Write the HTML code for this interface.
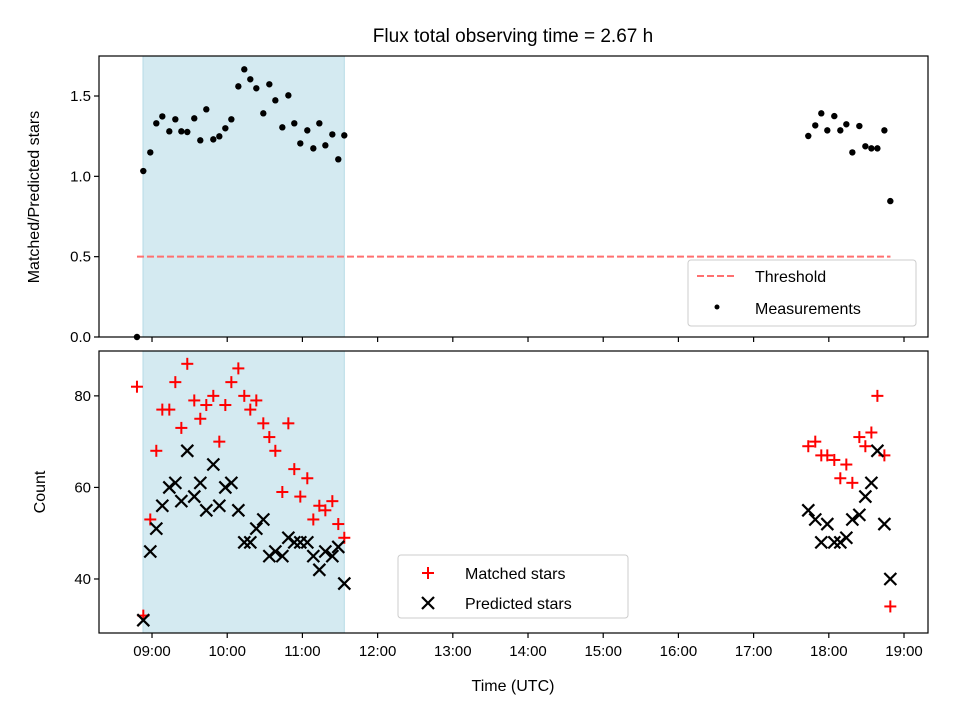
<!DOCTYPE html>
<html><head><meta charset="utf-8"><style>
body{margin:0;background:#fff;}
svg{display:block;font-family:"Liberation Sans","DejaVu Sans",sans-serif;}
</style></head><body>
<svg id="chart" width="960" height="720" viewBox="0 0 960 720" xmlns="http://www.w3.org/2000/svg"></svg>
<script>
const ratioTimes=[8.80,8.884,8.977,9.057,9.137,9.230,9.310,9.390,9.469,9.562,9.642,9.722,9.815,9.895,9.975,10.055,10.148,10.227,10.307,10.387,10.480,10.560,10.640,10.733,10.813,10.892,10.972,11.065,11.145,11.225,11.305,11.398,11.477,11.557,
17.727,17.820,17.900,17.980,18.073,18.153,18.233,18.313,18.406,18.486,18.566,18.646,18.739,18.818];
const ratioValues=[0,1.033,1.149,1.330,1.373,1.280,1.355,1.280,1.276,1.361,1.224,1.417,1.230,1.249,1.299,1.355,1.560,1.666,1.604,1.548,1.392,1.573,1.473,1.305,1.504,1.330,1.205,1.286,1.174,1.330,1.193,1.261,1.106,1.255,
1.251,1.317,1.392,1.286,1.375,1.286,1.324,1.149,1.313,1.187,1.174,1.174,1.286,0.846];
const matchedValues=[82,32,53,68,77,77,83,73,87,79,75,78,80,70,78,83,86,80,77,79,74,71,68,59,74,64,58,62,53,56,55,57,52,49,
69,70,67,67,66,62,65,61,71,69,72,80,67,34];
const predictedValues=[null,31,46,51,56,60,61,57,68,58,61,55,65,56,60,61,55,48,48,51,53,45,46,45,49,48,48,48,45,42,46,45,47,39,
55,53,48,52,48,48,49,53,54,58,61,68,52,40];
const threshold=0.5;
const thresholdRange=[8.80,18.82];
const spanRange=[8.88,11.557];
const xTicks=[9,10,11,12,13,14,15,16,17,18,19];
const xTickLabels=["09:00","10:00","11:00","12:00","13:00","14:00","15:00","16:00","17:00","18:00","19:00"];
const topYTicks=[0,0.5,1.0,1.5];
const topYTickLabels=["0.0","0.5","1.0","1.5"];
const botYTicks=[40,60,80];
const botYTickLabels=["40","60","80"];

const NS="http://www.w3.org/2000/svg";
const svg=document.getElementById('chart');
function mk(tag,attrs,parent){const e=document.createElementNS(NS,tag);for(const k in attrs)e.setAttribute(k,attrs[k]);(parent||svg).appendChild(e);return e;}
const L=99,R=928;
const xMin=8.295,xMax=19.319;
function X(t){return L+(t-xMin)/(xMax-xMin)*(R-L);}
const T={top:56,bot:337,min:0,max:1.749};
const B={top:351,bot:633,min:28.2,max:89.8};
function Y(ax,v){return ax.bot-(v-ax.min)/(ax.max-ax.min)*(ax.bot-ax.top);}

function panel(ax,name){
  const g=mk('g',{});
  
  
  const sp=mk('rect',{x:X(spanRange[0]),y:ax.top,width:X(spanRange[1])-X(spanRange[0]),height:ax.bot-ax.top,fill:'#d4eaf1',stroke:'#b5dbe6','stroke-width':1},g);
  
  
  return g;
}
function frame(ax,name,yt,ytl,showXLabels){
  const f=mk('rect',{x:L,y:ax.top,width:R-L,height:ax.bot-ax.top,fill:'none',stroke:'#000','stroke-width':1.2});
  
  
  xTicks.forEach((t,i)=>{
    const x=X(t);
    mk('line',{x1:x,x2:x,y1:ax.bot,y2:ax.bot+5,stroke:'#000','stroke-width':1.2});
    if(showXLabels){
      const tx=mk('text',{x:x,y:ax.bot+23,'text-anchor':'middle','font-size':15,fill:'#000'});
      tx.textContent=xTickLabels[i];
      
      
    }
  });
  yt.forEach((v,i)=>{
    const y=Y(ax,v);
    mk('line',{x1:L-5,x2:L,y1:y,y2:y,stroke:'#000','stroke-width':1.2});
    const tx=mk('text',{x:L-8,y:y+5,'text-anchor':'end','font-size':15,fill:'#000'});
    tx.textContent=ytl[i];
    
    
  });
}

// top panel
panel(T,'ratio');
const th=mk('line',{x1:X(thresholdRange[0]),x2:X(thresholdRange[1]),y1:Y(T,threshold),y2:Y(T,threshold),stroke:'#ff7070','stroke-width':2,'stroke-dasharray':'7,3'});


ratioTimes.forEach((t,i)=>{
  const c=mk('circle',{cx:X(t),cy:Y(T,ratioValues[i]),r:3.2,fill:'#000'});
  
  
});
frame(T,'ratio',topYTicks,topYTickLabels,false);

// bottom panel
panel(B,'count');
function plus(x,y){const g=mk('g',{stroke:'#ff0000','stroke-width':2});mk('line',{x1:x-6,x2:x+6,y1:y,y2:y},g);mk('line',{x1:x,x2:x,y1:y-6,y2:y+6},g);return g;}
function cross(x,y){const g=mk('g',{stroke:'#000','stroke-width':2.2});mk('line',{x1:x-6,x2:x+6,y1:y-6,y2:y+6},g);mk('line',{x1:x-6,x2:x+6,y1:y+6,y2:y-6},g);return g;}
ratioTimes.forEach((t,i)=>{
  if(matchedValues[i]!=null){
    const p=plus(X(t),Y(B,matchedValues[i]));
    
    
  }
});
ratioTimes.forEach((t,i)=>{
  if(predictedValues[i]!=null){
    const p=cross(X(t),Y(B,predictedValues[i]));
    
    
  }
});
frame(B,'count',botYTicks,botYTickLabels,true);

// titles
function text(s,attrs,name){const t=mk('text',attrs);t.textContent=s;return t;}
text('Flux total observing time = 2.67 h',{x:513,y:42,'text-anchor':'middle','font-size':19},'chart-title');
text('Time (UTC)',{x:513,y:691,'text-anchor':'middle','font-size':16},'x-axis-title');
text('Matched/Predicted stars',{x:0,y:0,'text-anchor':'middle','font-size':16,transform:'translate(39,197) rotate(-90)'},'top-y-axis-title');
text('Count',{x:0,y:0,'text-anchor':'middle','font-size':16,transform:'translate(45,492) rotate(-90)'},'bottom-y-axis-title');

// legends
const lg1=mk('g',{});


mk('rect',{x:688,y:260,width:228,height:66,rx:3,fill:'#fff','fill-opacity':0.85,stroke:'#ccc'},lg1);
mk('line',{x1:697,x2:737,y1:276,y2:276,stroke:'#ff7070','stroke-width':2,'stroke-dasharray':'7,3'},lg1);
mk('circle',{cx:717,cy:307,r:2.5,fill:'#000'},lg1);
const a=text('Threshold',{x:755,y:282,'font-size':16},'legend-threshold');lg1.appendChild(a);
const b=text('Measurements',{x:755,y:314,'font-size':16},'legend-measurements');lg1.appendChild(b);

const lg2=mk('g',{});


mk('rect',{x:398,y:555,width:230,height:63,rx:3,fill:'#fff','fill-opacity':0.85,stroke:'#ccc'},lg2);
lg2.appendChild(plus(428,573));
lg2.appendChild(cross(428,603));
const c=text('Matched stars',{x:465,y:579,'font-size':16},'legend-matched');lg2.appendChild(c);
const d=text('Predicted stars',{x:465,y:609,'font-size':16},'legend-predicted');lg2.appendChild(d);
</script>
</body></html>
